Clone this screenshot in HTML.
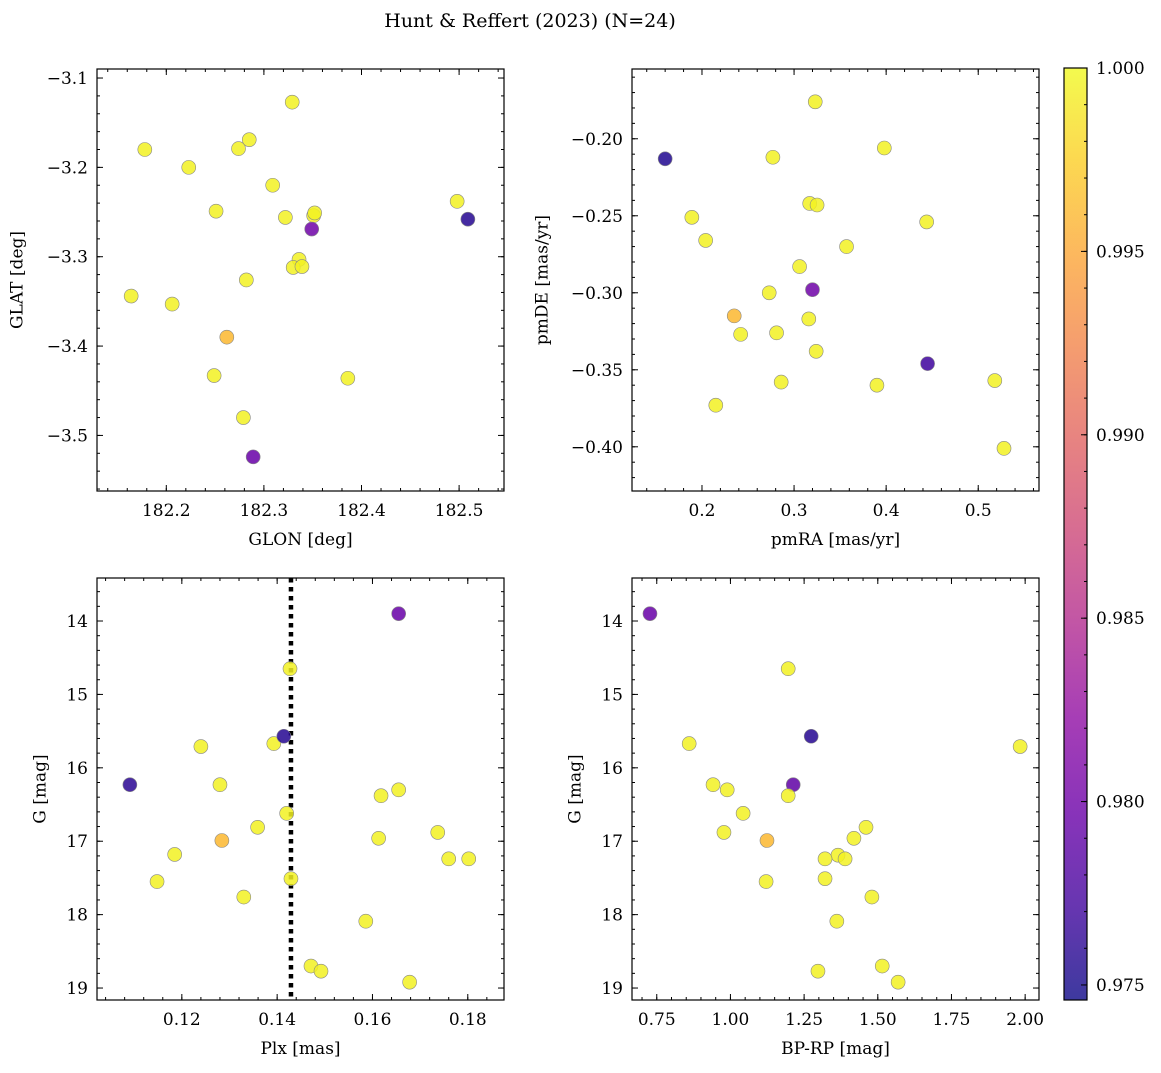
<!DOCTYPE html>
<html><head><meta charset="utf-8"><style>
html,body{margin:0;padding:0;background:#fff;}
svg text{font-family:"DejaVu Serif","Liberation Serif",serif;fill:#000;}
</style></head><body>
<svg id="fig" width="1161" height="1068" xmlns="http://www.w3.org/2000/svg">
<text x="530" y="27" font-size="19" text-anchor="middle">Hunt &amp; Reffert (2023) (N=24)</text>
</svg>
<script>
// ---- data ----
const tlGlon=[182.178,182.223,182.274,182.285,182.329,182.309,182.251,182.322,182.351,182.352,182.349,182.498,182.509,182.336,182.330,182.339,182.282,182.164,182.206,182.262,182.386,182.249,182.279,182.289];
const tlGlat=[-3.180,-3.200,-3.179,-3.169,-3.127,-3.220,-3.249,-3.256,-3.254,-3.251,-3.269,-3.238,-3.258,-3.303,-3.312,-3.311,-3.326,-3.344,-3.353,-3.390,-3.436,-3.433,-3.480,-3.524];
const tlProb=[0.9995,0.9995,0.9995,0.9995,0.9995,0.9995,0.9995,0.9995,0.9995,0.9995,0.980,0.9995,0.9757,0.9995,0.9995,0.9995,0.9995,0.9995,0.9995,0.996,0.9995,0.9995,0.9995,0.9795];
const trPmra=[0.160,0.323,0.277,0.398,0.189,0.317,0.325,0.444,0.204,0.357,0.306,0.273,0.320,0.235,0.242,0.316,0.281,0.324,0.445,0.286,0.390,0.518,0.215,0.528];
const trPmde=[-0.213,-0.176,-0.212,-0.206,-0.251,-0.242,-0.243,-0.254,-0.266,-0.270,-0.283,-0.300,-0.298,-0.315,-0.327,-0.317,-0.326,-0.338,-0.346,-0.358,-0.360,-0.357,-0.373,-0.401];
const trProb=[0.9755,0.9995,0.9995,0.9995,0.9995,0.9995,0.9995,0.9995,0.9995,0.9995,0.9995,0.9995,0.980,0.996,0.9995,0.9995,0.9995,0.9995,0.977,0.9995,0.9995,0.9995,0.9995,0.9995];
const blPlx=[0.1655,0.1427,0.1240,0.1393,0.1414,0.1091,0.1280,0.1618,0.1655,0.1359,0.1420,0.1284,0.1613,0.1737,0.1185,0.1148,0.1429,0.1760,0.1802,0.1330,0.1586,0.1471,0.1492,0.1678];
const blG=[13.90,14.65,15.71,15.67,15.57,16.23,16.23,16.38,16.30,16.81,16.62,16.99,16.96,16.88,17.18,17.55,17.51,17.24,17.24,17.76,18.09,18.70,18.77,18.92];
const blProb=[0.9795,0.9995,0.9995,0.9995,0.9757,0.976,0.9995,0.9995,0.9995,0.9995,0.9995,0.996,0.9995,0.9995,0.9995,0.9995,0.9995,0.9995,0.9995,0.9995,0.9995,0.9995,0.9995,0.9995];
const brBprp=[0.727,1.196,0.860,1.274,1.983,0.941,0.989,1.213,1.196,1.043,0.978,1.124,1.460,1.419,1.365,1.321,1.389,1.321,1.121,1.480,1.361,1.515,1.297,1.569];
const brG=[13.90,14.65,15.67,15.57,15.71,16.23,16.30,16.23,16.38,16.62,16.88,16.99,16.81,16.96,17.19,17.24,17.24,17.51,17.55,17.76,18.09,18.70,18.77,18.92];
const brProb=[0.9795,0.9995,0.9995,0.9757,0.9995,0.9995,0.9995,0.979,0.9995,0.9995,0.9995,0.996,0.9995,0.9995,0.9995,0.9995,0.9995,0.9995,0.9995,0.9995,0.9995,0.9995,0.9995,0.9995];
const plxMean=[0.1429];
const tlXTicks=[182.2,182.3,182.4,182.5], tlYTicks=[-3.1,-3.2,-3.3,-3.4,-3.5];
const trXTicks=[0.2,0.3,0.4,0.5], trYTicks=[-0.20,-0.25,-0.30,-0.35,-0.40];
const blXTicks=[0.12,0.14,0.16,0.18], gTicks=[14,15,16,17,18,19];
const brXTicks=[0.75,1.00,1.25,1.50,1.75,2.00];
const cbTicks=[0.975,0.980,0.985,0.990,0.995,1.000];

const NS="http://www.w3.org/2000/svg";
const svg=document.getElementById('fig');
function mk(tag,attrs,parent){const e=document.createElementNS(NS,tag);for(const k in attrs)e.setAttribute(k,attrs[k]);(parent||svg).appendChild(e);return e;}
const stops=[[0,[13,8,135]],[0.1,[65,4,157]],[0.2,[106,0,168]],[0.3,[143,13,164]],[0.4,[177,42,144]],[0.5,[204,71,120]],[0.6,[225,100,98]],[0.7,[242,132,75]],[0.8,[252,166,54]],[0.9,[252,206,37]],[1,[240,249,33]]];
function plasma(t){t=Math.max(0,Math.min(1,t));for(let i=1;i<stops.length;i++){if(t<=stops[i][0]){const a=stops[i-1],b=stops[i];const f=(t-a[0])/(b[0]-a[0]);const c=a[1].map((v,j)=>Math.round(v+(b[1][j]-v)*f));return 'rgb('+c.join(',')+')';}}return 'rgb(240,249,33)';}
const vmin=0.97459,vmax=1.0;
const FS=17;

function panel(name,box,xr,yr,xt,yt,xminor,yminor,xfmt,yfmt,xlab,ylab,ylabX,xs,ys,ps,extra){
  const [L,T,R,B]=box;
  const g=mk('g',{});
  
  
  const X=v=>L+(v-xr[0])/(xr[1]-xr[0])*(R-L);
  const Y=v=>T+(v-yr[0])/(yr[1]-yr[0])*(B-T);
  if(extra)extra(g,X,Y);
  for(let i=0;i<xs.length;i++){
    const c=mk('circle',{cx:X(xs[i]),cy:Y(ys[i]),r:7,fill:plasma((ps[i]-vmin)/(vmax-vmin)),'fill-opacity':0.85,stroke:'#888','stroke-width':0.6},g);
    
    
  }
  mk('rect',{x:L,y:T,width:R-L,height:B-T,fill:'none',stroke:'#000','stroke-width':1.2},g);
  const lo=Math.min(xr[0],xr[1]),hi=Math.max(xr[0],xr[1]);
  for(let v=Math.ceil(lo/xminor-1e-6)*xminor;v<=hi+1e-9;v+=xminor){const x=X(v);mk('line',{x1:x,x2:x,y1:B,y2:B-3,stroke:'#000'},g);mk('line',{x1:x,x2:x,y1:T,y2:T+3,stroke:'#000'},g);}
  const ylo=Math.min(yr[0],yr[1]),yhi=Math.max(yr[0],yr[1]);
  for(let v=Math.ceil(ylo/yminor-1e-6)*yminor;v<=yhi+1e-9;v+=yminor){const y=Y(v);mk('line',{x1:L,x2:L+3,y1:y,y2:y,stroke:'#000'},g);mk('line',{x1:R,x2:R-3,y1:y,y2:y,stroke:'#000'},g);}
  xt.forEach(v=>{const x=X(v);mk('line',{x1:x,x2:x,y1:B,y2:B-6,stroke:'#000'},g);mk('line',{x1:x,x2:x,y1:T,y2:T+6,stroke:'#000'},g);
    const t=mk('text',{x:x,y:B+25,'font-size':FS,'text-anchor':'middle'},g);t.textContent=xfmt(v);});
  yt.forEach(v=>{const y=Y(v);mk('line',{x1:L,x2:L+6,y1:y,y2:y,stroke:'#000'},g);mk('line',{x1:R,x2:R-6,y1:y,y2:y,stroke:'#000'},g);
    const t=mk('text',{x:L-9,y:y+6,'font-size':FS,'text-anchor':'end'},g);t.textContent=yfmt(v);});
  const xl=mk('text',{x:(L+R)/2,y:B+54,'font-size':FS,'text-anchor':'middle'},g);xl.textContent=xlab;
  
  
  const cy=(T+B)/2;
  const yl=mk('text',{x:ylabX,y:cy,'font-size':FS,'text-anchor':'middle','dominant-baseline':'middle',transform:'rotate(-90 '+ylabX+' '+cy+')'},g);yl.textContent=ylab;
  
  
}
panel('glon-glat-panel',[97,69,504,491],[182.129,182.546],[-3.0899,-3.5622],tlXTicks,tlYTicks,0.02,0.02,v=>v.toFixed(1),v=>'\u2212'+Math.abs(v).toFixed(1),'GLON [deg]','GLAT [deg]',18,tlGlon,tlGlat,tlProb);
panel('pm-panel',[632,69,1039,491],[0.124,0.566],[-0.1547,-0.4287],trXTicks,trYTicks,0.02,0.01,v=>v.toFixed(1),v=>'\u2212'+Math.abs(v).toFixed(2),'pmRA [mas/yr]','pmDE [mas/yr]',543,trPmra,trPmde,trProb);
panel('plx-g-panel',[97,578,504,1000],[0.1022,0.1876],[13.414,19.163],blXTicks,gTicks,0.004,0.2,v=>v.toFixed(2),v=>String(v),'Plx [mas]','G [mag]',41,blPlx,blG,blProb,(g,X,Y)=>{
  const x=X(plxMean[0]);const l=mk('line',{x1:x,x2:x,y1:578,y2:1000,stroke:'#000','stroke-width':4.5,'stroke-dasharray':'4.5 4.5'},g);
  
  
});
panel('cmd-panel',[632,578,1039,1000],[0.666,2.047],[13.414,19.163],brXTicks,gTicks,0.05,0.2,v=>v.toFixed(2),v=>String(v),'BP-RP [mag]','G [mag]',576,brBprp,brG,brProb);

// colorbar
const cb=mk('g',{});


const defs=mk('defs',{},cb);
const grad=mk('linearGradient',{id:'pl',x1:0,y1:1,x2:0,y2:0},defs);
stops.forEach(s=>mk('stop',{offset:s[0],'stop-color':'rgb('+s[1].join(',')+')','stop-opacity':0.8},grad));
const CT=68,CB=1000,CL=1064,CR=1087;
mk('rect',{x:CL,y:CT,width:CR-CL,height:CB-CT,fill:'url(#pl)',stroke:'#000','stroke-width':1.2},cb);
const CY=v=>CB-(v-vmin)/(vmax-vmin)*(CB-CT);
for(let v=0.975;v<=1.00001;v+=0.001){const y=CY(v);mk('line',{x1:CR,x2:CR-3,y1:y,y2:y,stroke:'#000'},cb);}
cbTicks.forEach(v=>{const y=CY(v);mk('line',{x1:CR,x2:CR-6,y1:y,y2:y,stroke:'#000'},cb);
  const t=mk('text',{x:CR+9,y:y+6,'font-size':FS},cb);t.textContent=v.toFixed(3);
  
  });
</script>
</body></html>
